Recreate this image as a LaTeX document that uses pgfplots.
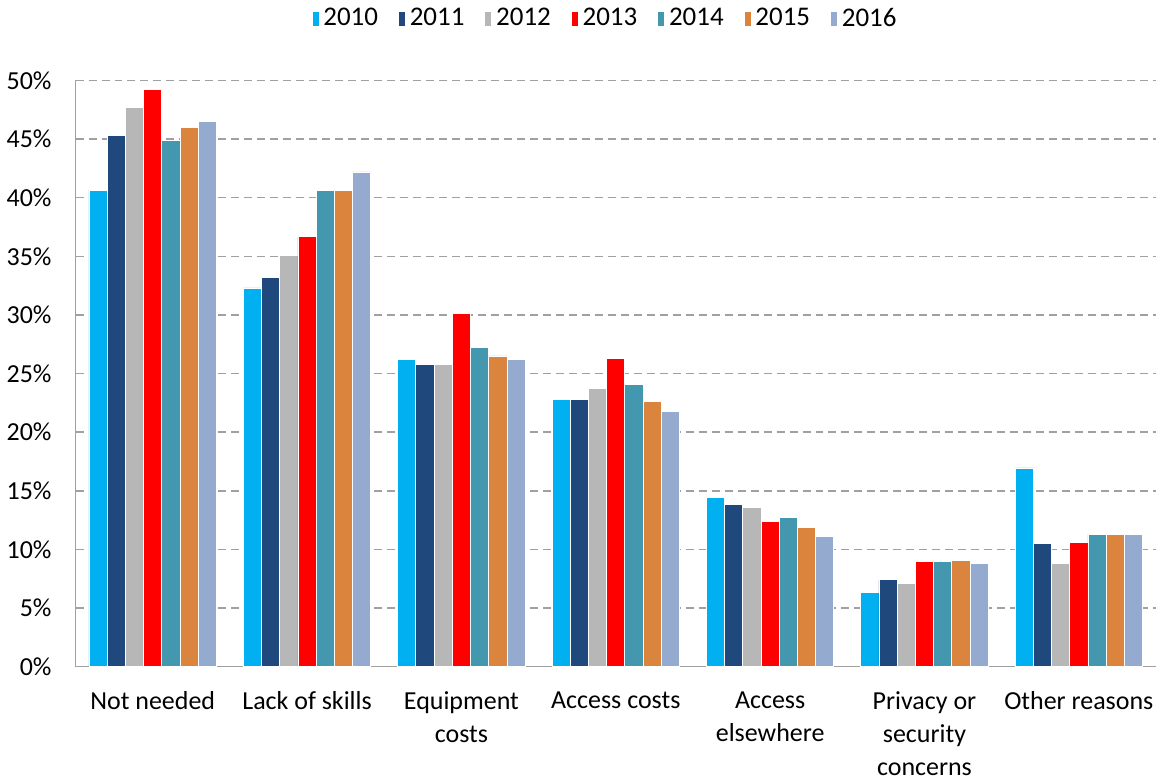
\documentclass[border=0pt]{standalone}
\usepackage{pgfplots}
\pgfplotsset{compat=1.18}
\usepackage{fontspec}
\setmainfont{Carlito}

\definecolor{c2010}{HTML}{00B0F0}
\definecolor{c2011}{HTML}{1F497D}
\definecolor{c2012}{HTML}{B7B7B7}
\definecolor{c2013}{HTML}{FF0000}
\definecolor{c2014}{HTML}{4398B0}
\definecolor{c2015}{HTML}{DB843D}
\definecolor{c2016}{HTML}{95AACF}
\definecolor{gridgray}{HTML}{A0A0A0}

\begin{document}
\begin{tikzpicture}
\begin{axis}[
    scale only axis,
    width=541pt, height=293.5pt,
    font=\fontsize{13}{16.5}\selectfont,
    ybar=0pt,
    bar width=0.118,
    xmin=-0.5, xmax=6.5,
    ymin=0, ymax=50,
    xtick={0,1,2,3,4,5,6},
    xticklabels={Not needed, Lack of skills, {Equipment\\costs}, Access costs, {Access\\elsewhere}, {Privacy or\\security\\concerns}, Other reasons},
    ytick={0,5,10,15,20,25,30,35,40,45,50},
    yticklabel={\pgfmathprintnumber{\tick}\%},
    /pgf/number format/assume math mode=true,
    xticklabel style={align=center, yshift=-9pt},
    yticklabel style={xshift=-8.5pt},
    major tick length=0pt,
    axis x line*=bottom,
    axis y line*=left,
    axis line style={-, draw=gridgray, line width=0.75pt},
    ymajorgrids=true,
    grid style={gridgray, line width=0.75pt, dash pattern=on 4pt off 2.5pt},
    legend columns=7,
    legend style={draw=none, at={(0.491,1)}, anchor=center, yshift=31pt,
        /tikz/every even column/.append style={column sep=8pt},
        font=\fontsize{13.5}{16.5}\selectfont},
    legend image code/.code={\fill[#1] (0pt,-3.75pt) rectangle (3.5pt,3.75pt);},
    every axis plot/.append style={draw=white, line width=0.4pt},
]
\addplot[fill=c2010] coordinates {(0,40.65) (1,32.3) (2,26.2) (3,22.8) (4,14.4) (5,6.3) (6,16.95)};
\addplot[fill=c2011] coordinates {(0,45.3) (1,33.2) (2,25.8) (3,22.8) (4,13.8) (5,7.4) (6,10.5)};
\addplot[fill=c2012] coordinates {(0,47.7) (1,35.1) (2,25.8) (3,23.7) (4,13.6) (5,7.1) (6,8.8)};
\addplot[fill=c2013] coordinates {(0,49.2) (1,36.7) (2,30.1) (3,26.3) (4,12.4) (5,9.0) (6,10.6)};
\addplot[fill=c2014] coordinates {(0,44.9) (1,40.65) (2,27.2) (3,24.05) (4,12.7) (5,9.0) (6,11.3)};
\addplot[fill=c2015] coordinates {(0,46.0) (1,40.65) (2,26.5) (3,22.6) (4,11.9) (5,9.05) (6,11.3)};
\addplot[fill=c2016] coordinates {(0,46.5) (1,42.2) (2,26.2) (3,21.8) (4,11.1) (5,8.8) (6,11.3)};
\legend{2010,2011,2012,2013,2014,2015,2016}
\end{axis}
\end{tikzpicture}
\end{document}
